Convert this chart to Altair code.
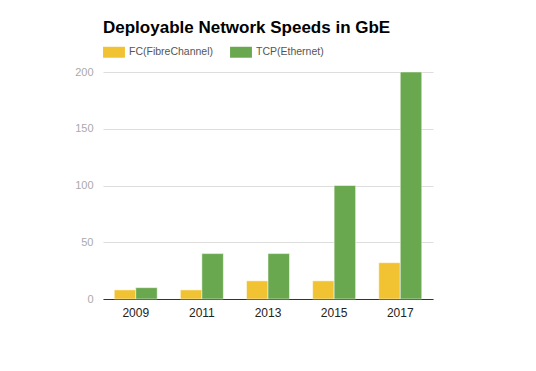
import altair as alt
import pandas as pd

years = ["2009", "2011", "2013", "2015", "2017"]
fc = [8, 8, 16, 16, 32]
tcp = [10, 40, 40, 100, 200]
series = ["FC(FibreChannel)", "TCP(Ethernet)"]
colors = ["#F1C232", "#6AA84F"]

rows = []
for i, y in enumerate(years):
    rows.append({"year": y, "series": series[0], "value": fc[i]})
    rows.append({"year": y, "series": series[1], "value": tcp[i]})
df = pd.DataFrame(rows)

font = "Liberation Sans"

chart = alt.Chart(df).mark_bar(stroke="white", strokeWidth=0.5).encode(
    x=alt.X("year:N", title=None, sort=years,
            scale=alt.Scale(paddingInner=0.35, paddingOuter=0.17),
            axis=alt.Axis(labelAngle=0, labelFont=font, labelFontSize=12, labelColor="#222222",
                          ticks=False, domainColor="#333333", domainWidth=1, labelPadding=8, grid=False)),
    xOffset=alt.XOffset("series:N", sort=series),
    y=alt.Y("value:Q", title=None, scale=alt.Scale(domain=[0, 200]),
            axis=alt.Axis(values=[0, 50, 100, 150, 200], labelFont=font, labelFontSize=11,
                          labelColor="#aaaaaa", ticks=False, domain=False, gridColor="#dddddd",
                          labelPadding=10)),
    color=alt.Color("series:N", sort=series, scale=alt.Scale(domain=series, range=colors),
                    legend=alt.Legend(title=None, orient="none", legendX=0, legendY=-31,
                                      direction="horizontal", symbolType="M-1,-0.5H1V0.5H-1Z",
                                      symbolSize=480, symbolStrokeWidth=0, symbolOpacity=1,
                                      labelFont=font, labelFontSize=10.5, labelColor="#555555",
                                      columnPadding=16, labelOffset=4)),
).properties(
    width=330, height=227,
    title=alt.TitleParams("Deployable Network Speeds in GbE", anchor="start", font=font,
                          fontSize=17, fontWeight="bold", color="#000000", offset=4, frame="group"),
    autosize=alt.AutoSizeParams(type="none"),
    padding={"left": 95, "top": 64, "right": 90, "bottom": 50},
).configure_view(stroke=None)

chart.save("out.html", embed_options={"renderer": "svg", "actions": False})
